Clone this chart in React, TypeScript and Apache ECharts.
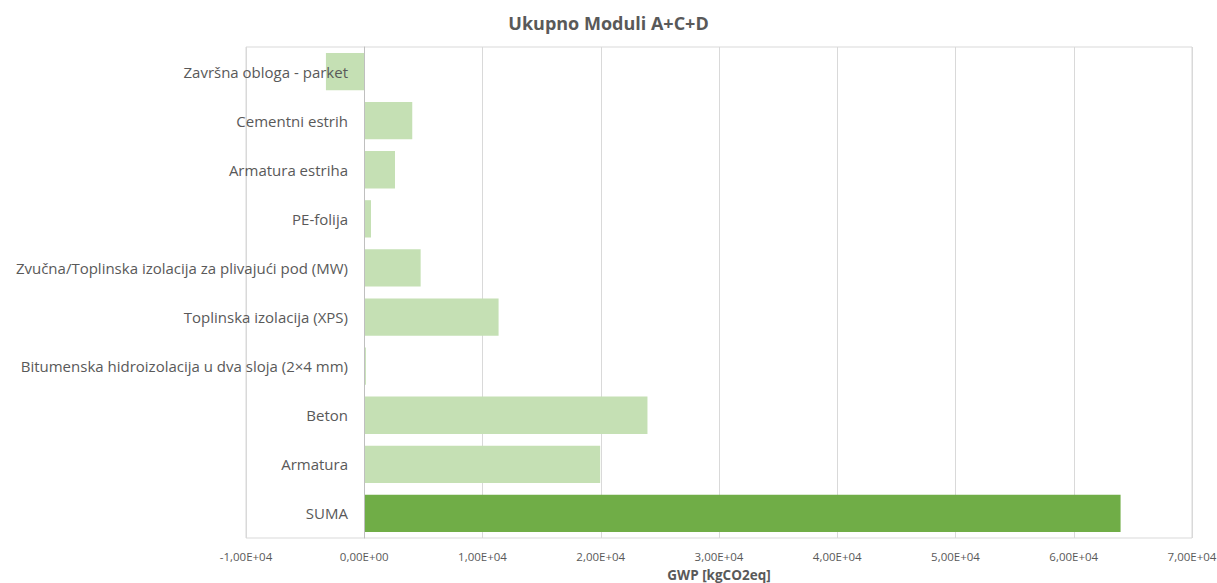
import React, { useEffect, useRef } from "react";
import * as echarts from "echarts";

const categories = [
  "Završna obloga - parket",
  "Cementni estrih",
  "Armatura estriha",
  "PE-folija",
  "Zvučna/Toplinska izolacija za plivajući pod (MW)",
  "Toplinska izolacija (XPS)",
  "Bitumenska hidroizolacija u dva sloja (2×4 mm)",
  "Beton",
  "Armatura",
  "SUMA",
];
const values = [-3240, 4060, 2600, 570, 4770, 11360, 140, 23950, 19950, 63960];
const highlightCategory = "SUMA";
const titleText = "Ukupno Moduli A+C+D";
const xAxisName = "GWP [kgCO2eq]";

const fmt = (v: number) => {
  if (v === 0) return "0,00E+00";
  const exp = Math.floor(Math.log10(Math.abs(v)));
  const mant = v / Math.pow(10, exp);
  return mant.toFixed(2).replace(".", ",") + "E+" + String(exp).padStart(2, "0");
};

export default function App() {
  const ref = useRef<HTMLDivElement>(null);
  useEffect(() => {
    if (!ref.current) return;
    const chart = echarts.init(ref.current, undefined, { renderer: "svg" });
    chart.setOption({
      animation: false,
      backgroundColor: "#ffffff",
      textStyle: { fontFamily: "Open Sans" },
      title: {
        text: titleText,
        left: "center",
        top: 9,
        textStyle: { fontSize: 18, fontWeight: "bold", color: "#595959", fontFamily: "Open Sans" },
      },
      grid: {
        left: 246,
        right: 25,
        top: 47,
        bottom: 45,
        containLabel: false,
        outerBoundsMode: "none",
        show: true,
        borderColor: "#D9D9D9",
        borderWidth: 1,
      },
      xAxis: {
        type: "value",
        min: -10000,
        max: 70000,
        interval: 10000,
        name: xAxisName,
        nameLocation: "middle",
        nameGap: 30,
        nameTextStyle: { fontSize: 13.5, fontWeight: "bold", color: "#595959" },
        axisLine: { show: false },
        axisTick: { show: false },
        axisLabel: { formatter: fmt, fontSize: 11.5, color: "#595959", margin: 12 },
        splitLine: { show: true, lineStyle: { color: "#D9D9D9", width: 1 } },
      },
      yAxis: {
        type: "category",
        data: categories,
        inverse: true,
        z: 10,
        axisLine: { show: true, onZero: true, lineStyle: { color: "#BFBFBF" } },
        axisTick: { show: false },
        axisLabel: { fontSize: 15, color: "#595959", margin: -102 },
        splitLine: { show: false },
      },
      series: [
        {
          type: "bar",
          barCategoryGap: "24%",
          data: values.map((v, i) => ({
            value: v,
            itemStyle: { color: categories[i] === highlightCategory ? "#70AD47" : "#C5E0B4" },
          })),
        },
      ],
    });
    return () => chart.dispose();
  }, []);
  return (
    <div
      ref={ref}
      style={{ position: "absolute", left: 0, top: 0, width: 1217, height: 583 }}
    />
  );
}
